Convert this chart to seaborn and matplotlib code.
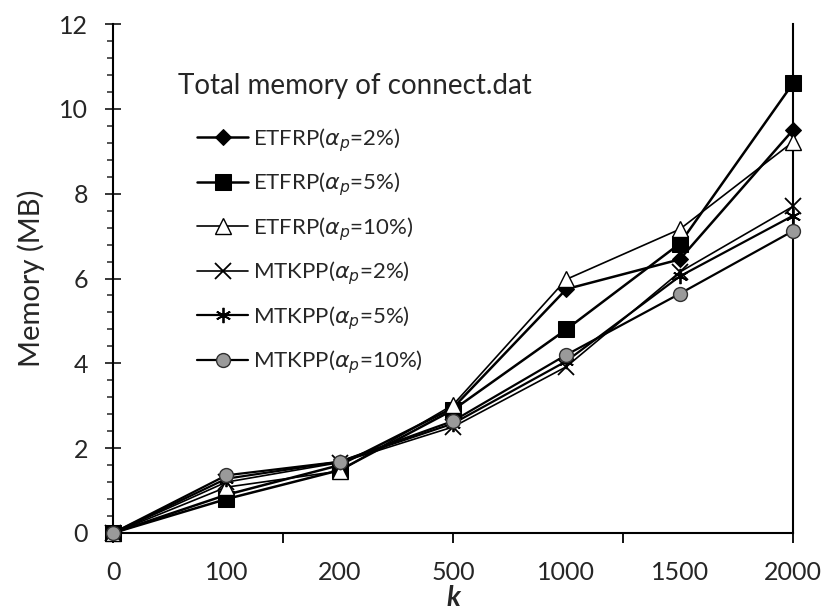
import numpy as np
import pandas as pd
import matplotlib
matplotlib.use("Agg")
import matplotlib.pyplot as plt
from matplotlib.ticker import MultipleLocator, FixedLocator
import seaborn as sns

# k values (evenly spaced categories) and memory usage in MB
k_labels = ["0", "100", "200", "500", "1000", "1500", "2000"]

etfrp_2 = [0.0, 0.90, 1.60, 2.95, 5.75, 6.45, 9.50]
etfrp_5 = [0.0, 0.80, 1.48, 2.90, 4.80, 6.82, 10.60]
etfrp_10 = [0.0, 1.08, 1.46, 3.02, 5.98, 7.16, 9.22]
mtkpp_2 = [0.0, 1.20, 1.66, 2.50, 3.92, 6.15, 7.70]
mtkpp_5 = [0.0, 1.28, 1.68, 2.58, 4.05, 6.05, 7.48]
mtkpp_10 = [0.0, 1.36, 1.68, 2.64, 4.20, 5.64, 7.12]

series_names = [
    "ETFRP($\\alpha_p$=2%)",
    "ETFRP($\\alpha_p$=5%)",
    "ETFRP($\\alpha_p$=10%)",
    "MTKPP($\\alpha_p$=2%)",
    "MTKPP($\\alpha_p$=5%)",
    "MTKPP($\\alpha_p$=10%)",
]
series_values = [etfrp_2, etfrp_5, etfrp_10, mtkpp_2, mtkpp_5, mtkpp_10]

styles = [
    dict(marker="D", markersize=8, markerfacecolor="black", markeredgecolor="black", lw=1.8),
    dict(marker="s", markersize=11, markerfacecolor="black", markeredgecolor="black", lw=1.8),
    dict(marker="^", markersize=11, markerfacecolor="white", markeredgecolor="black", lw=1.2, markeredgewidth=1.0),
    dict(marker="x", markersize=11, markerfacecolor="black", markeredgecolor="black", lw=1.2, markeredgewidth=1.3),
    dict(marker=(6, 2, 0), markersize=11, markerfacecolor="black", markeredgecolor="black", lw=1.6, markeredgewidth=1.3),
    dict(marker="o", markersize=10, markerfacecolor="#9a9a9a", markeredgecolor="#303030", lw=1.6, markeredgewidth=1.0),
]

sns.set_style("ticks")
plt.rcParams["font.family"] = ["Lato", "DejaVu Sans"]
plt.rcParams["mathtext.fontset"] = "dejavusans"

fig = plt.figure(figsize=(8.22, 6.10), dpi=100)
ax = fig.add_axes([113 / 822, 1 - 533 / 610, (793 - 113) / 822, (533 - 24) / 610])

pos = np.arange(len(k_labels))
for name, vals, st in zip(series_names, series_values, styles):
    df = pd.DataFrame({"pos": pos, "mem": vals})
    sns.lineplot(data=df, x="pos", y="mem", ax=ax, color="black", label=name,
                 clip_on=False, zorder=3, **st)

ax.set_xlim(0, 6)
ax.set_ylim(0, 12)

# category labels sit on invisible minor ticks; the drawn ticks fall every 1.5 steps
ax.xaxis.remove_overlapping_locs = False
ax.xaxis.set_major_locator(FixedLocator([0, 1.5, 3, 4.5, 6]))
ax.xaxis.set_major_formatter(plt.NullFormatter())
ax.xaxis.set_minor_locator(FixedLocator(pos))
ax.set_xticklabels(k_labels, minor=True)
ax.tick_params(axis="x", which="major", direction="out", length=7, width=1.3, color="black")
ax.tick_params(axis="x", which="minor", length=0, pad=20, labelsize=18)

ax.yaxis.set_major_locator(MultipleLocator(2))
ax.yaxis.set_minor_locator(MultipleLocator(0.4))
ax.tick_params(axis="y", which="major", direction="inout", length=12, width=1.3, labelsize=18, pad=12)
ax.tick_params(axis="y", which="minor", direction="out", length=4.5, width=1.1)

for side in ["left", "bottom", "right"]:
    ax.spines[side].set_linewidth(1.5)
    ax.spines[side].set_color("black")
ax.spines["top"].set_visible(False)

ax.set_xlabel("k", fontsize=20, fontweight="bold", fontstyle="italic", labelpad=1)
ax.set_ylabel("Memory (MB)", fontsize=21, labelpad=10)

fig.text(178 / 822, 1 - 86 / 610, "Total memory of connect.dat", fontsize=20,
         ha="left", va="center")

leg = ax.legend(loc="upper left", bbox_to_anchor=(197 / 822, 1 - 126 / 610),
                bbox_transform=fig.transFigure, frameon=False, fontsize=16,
                handlelength=2.3, handletextpad=0.2, labelspacing=0.75,
                borderaxespad=0, borderpad=0)

fig.savefig("out.png", dpi=100, facecolor="white")
